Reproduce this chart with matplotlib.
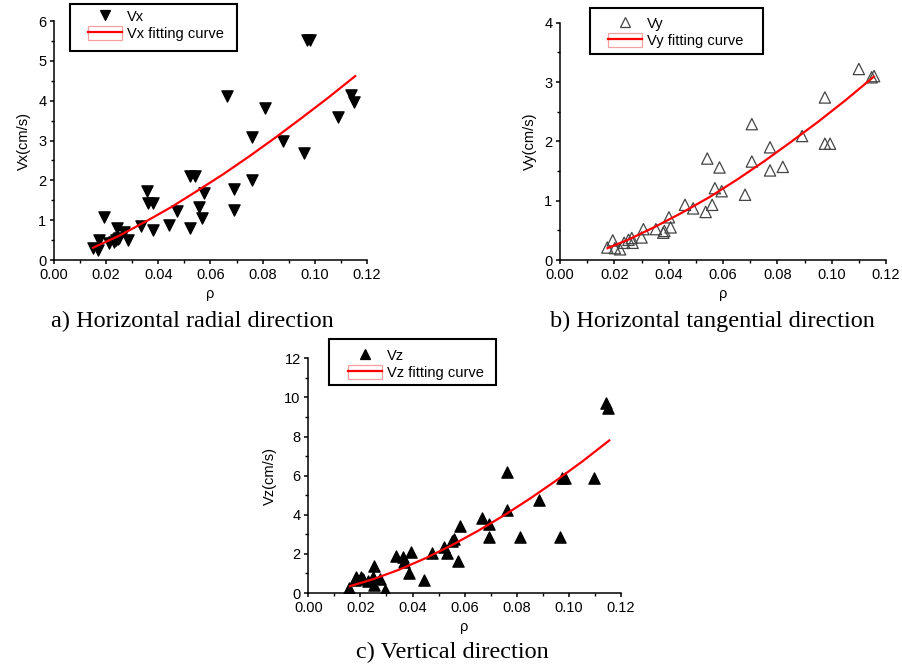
import matplotlib
matplotlib.use("Agg")
import matplotlib.pyplot as plt
from matplotlib.lines import Line2D
from matplotlib.patches import Patch, Rectangle
from matplotlib.legend_handler import HandlerTuple
from matplotlib.ticker import MultipleLocator

plt.rcParams['font.family'] = ['Liberation Sans', 'DejaVu Sans']

# a) horizontal radial
rho_x = [0.0151, 0.0170, 0.0173, 0.0193, 0.0210, 0.0230, 0.0236, 0.0245, 0.0250, 0.0240,
         0.0270, 0.0285, 0.0334, 0.0357, 0.0360, 0.0380, 0.0380, 0.0440, 0.0470, 0.0520,
         0.0520, 0.0540, 0.0556, 0.0566, 0.0575, 0.0664, 0.0690, 0.0690, 0.0758, 0.0760,
         0.0808, 0.0879, 0.0960, 0.0970, 0.0980, 0.1090, 0.1140, 0.1150]
vx = [0.29, 0.25, 0.50, 1.09, 0.42, 0.45, 0.50, 0.52, 0.55, 0.80,
      0.71, 0.50, 0.86, 1.74, 1.44, 1.42, 0.75, 0.88, 1.24, 0.80,
      2.12, 2.12, 1.32, 1.06, 1.69, 4.12, 1.78, 1.26, 3.08, 2.01,
      3.81, 2.98, 2.69, 5.53, 5.53, 3.58, 4.15, 3.96]
fit_rho_x = [0.015, 0.025, 0.035, 0.045, 0.055, 0.065, 0.075, 0.085, 0.095, 0.105, 0.1155]
fit_vx = [0.31, 0.61, 0.96, 1.33, 1.74, 2.16, 2.61, 3.08, 3.57, 4.07, 4.62]

# b) horizontal tangential
rho_y = [0.0174, 0.0194, 0.0202, 0.0221, 0.0236, 0.0252, 0.0264, 0.0267, 0.0300, 0.0307,
         0.0353, 0.0380, 0.0384, 0.0401, 0.0407, 0.0460, 0.0490, 0.0536, 0.0542, 0.0560,
         0.0570, 0.0587, 0.0595, 0.0681, 0.0706, 0.0706, 0.0773, 0.0773, 0.0820, 0.0891,
         0.0975, 0.0975, 0.0994, 0.1100, 0.1147, 0.1156]
vy = [0.21, 0.33, 0.20, 0.18, 0.29, 0.34, 0.37, 0.29, 0.38, 0.52,
      0.52, 0.46, 0.49, 0.72, 0.55, 0.93, 0.87, 0.81, 1.71, 0.93,
      1.21, 1.56, 1.16, 1.10, 2.29, 1.66, 1.90, 1.51, 1.57, 2.09,
      2.74, 1.96, 1.96, 3.22, 3.08, 3.10]
fit_rho_y = [0.0175, 0.025, 0.035, 0.045, 0.055, 0.065, 0.075, 0.085, 0.095, 0.105, 0.1155]
fit_vy = [0.20, 0.34, 0.56, 0.80, 1.06, 1.35, 1.66, 1.99, 2.33, 2.69, 3.09]

# c) vertical
rho_z = [0.0157, 0.0179, 0.0185, 0.0202, 0.0211, 0.0228, 0.0247, 0.0252, 0.0252, 0.0275,
         0.0294, 0.0336, 0.0362, 0.0367, 0.0387, 0.0394, 0.0445, 0.0474, 0.0520, 0.0531,
         0.0550, 0.0559, 0.0574, 0.0582, 0.0668, 0.0694, 0.0693, 0.0761, 0.0761, 0.0812,
         0.0885, 0.0967, 0.0973, 0.0986, 0.1097, 0.1142, 0.1152]
vz = [0.26, 0.65, 0.82, 0.82, 0.71, 0.60, 0.82, 0.43, 1.36, 0.71,
      0.17, 1.91, 1.84, 1.57, 1.02, 2.08, 0.68, 2.04, 2.35, 2.04,
      2.67, 2.76, 1.62, 3.44, 3.86, 3.54, 2.86, 6.21, 4.22, 2.86,
      4.73, 2.86, 5.87, 5.87, 5.87, 9.70, 9.45]
fit_rho_z = [0.016, 0.025, 0.035, 0.045, 0.055, 0.065, 0.075, 0.085, 0.095, 0.105, 0.1155]
fit_vz = [0.35, 0.71, 1.20, 1.78, 2.44, 3.17, 3.96, 4.82, 5.74, 6.71, 7.80]

W, H = 903, 666
fig = plt.figure(figsize=(W / 100, H / 100), dpi=100)


def fx(px):
    return px / W


def fy(py):
    return 1 - py / H


panels = [
    dict(rect=[0.0598, 0.6096, 0.3466, 0.3587], x=rho_x, y=vx, fx=fit_rho_x, fy=fit_vx,
         name='Vx', ymax=6, major=1, minor=0.5, marker='v', face='black', edge='black',
         box=(70, 4, 237, 51), hleft=88, row1=17,
         cap='a) Horizontal radial direction', capxy=(192, 321)),
    dict(rect=[0.6202, 0.6096, 0.3610, 0.3563], x=rho_y, y=vy, fx=fit_rho_y, fy=fit_vy,
         name='Vy', ymax=4, major=1, minor=0.5, marker='^', face='none', edge='#444444',
         box=(590, 8, 763, 54), hleft=608, row1=24,
         cap='b) Horizontal tangential direction', capxy=(712, 321)),
    dict(rect=[0.3414, 0.1096, 0.3463, 0.3524], x=rho_z, y=vz, fx=fit_rho_z, fy=fit_vz,
         name='Vz', ymax=12, major=2, minor=1, marker='^', face='black', edge='black',
         box=(329, 339, 496, 385), hleft=348, row1=356,
         cap='c) Vertical direction', capxy=(452, 652)),
]

for p in panels:
    ax = fig.add_axes(p['rect'])
    ax.scatter(p['x'], p['y'], marker=p['marker'], s=66, facecolors=p['face'],
               edgecolors=p['edge'], linewidths=0.9, zorder=3)
    ax.plot(p['fx'], p['fy'], color='red', lw=1.6, zorder=4)
    ax.set_xlim(0, 0.12)
    ax.set_ylim(0, p['ymax'])
    ax.xaxis.set_major_locator(MultipleLocator(0.02))
    ax.xaxis.set_minor_locator(MultipleLocator(0.01))
    ax.yaxis.set_major_locator(MultipleLocator(p['major']))
    ax.yaxis.set_minor_locator(MultipleLocator(p['minor']))
    ax.xaxis.set_major_formatter(plt.FormatStrFormatter('%.2f'))
    ax.spines['top'].set_visible(False)
    ax.spines['right'].set_visible(False)
    for s in ('left', 'bottom'):
        ax.spines[s].set_linewidth(1.1)
    ax.tick_params(which='major', direction='out', length=3, width=1.1, labelsize=10.5, pad=2.5)
    ax.tick_params(which='minor', direction='out', length=2, width=1.0)
    ax.set_xlabel('ρ', fontsize=10.5, labelpad=4)
    ax.set_ylabel(p['name'] + '(cm/s)', fontsize=10.5, labelpad=5)

    # legend box
    x0, y0, x1, y1 = p['box']
    fig.patches.append(Rectangle((fx(x0), fy(y1)), fx(x1 - x0), (y1 - y0) / H,
                                 transform=fig.transFigure, facecolor='white',
                                 edgecolor='black', linewidth=1.5, zorder=5))
    mk = Line2D([], [], marker=p['marker'], linestyle='none', markersize=6.5,
                markerfacecolor=p['face'], markeredgecolor=p['edge'], markeredgewidth=0.9)
    pbox = Patch(facecolor='none', edgecolor='#f5a0a0', linewidth=0.9)
    ln = Line2D([], [], color='red', lw=1.6)
    leg = fig.legend([mk, (pbox, ln)], [p['name'], p['name'] + ' fitting curve'],
                     handler_map={tuple: HandlerTuple(ndivide=1, pad=0)},
                     loc='upper left', bbox_to_anchor=(fx(p['hleft']), fy(p['row1'] - 8.5)),
                     fontsize=10.5, frameon=False, borderpad=0, borderaxespad=0,
                     labelspacing=0.14, handlelength=2.35, handleheight=1.15,
                     handletextpad=0.3)
    leg.set_zorder(6)

    fig.text(fx(p['capxy'][0]), fy(p['capxy'][1]), p['cap'], ha='center', va='center',
             fontsize=17.5, family=['Liberation Serif', 'DejaVu Serif'])

fig.savefig('out.png', dpi=100)
